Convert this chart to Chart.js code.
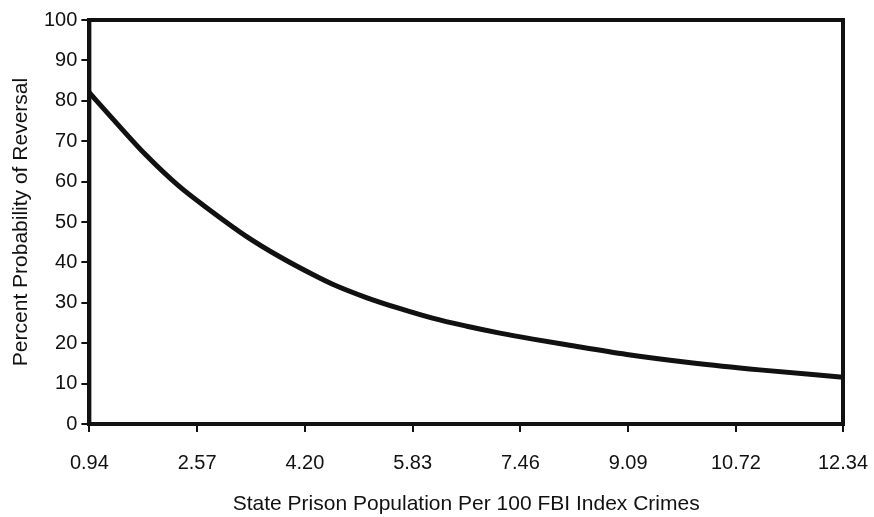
<!DOCTYPE html>
<html>
<head>
<meta charset="utf-8">
<script src="https://cdn.jsdelivr.net/npm/chart.js@4"></script>
<style>
  html, body { margin: 0; padding: 0; background: #fff; }
  #wrap { width: 874px; height: 517px; }
</style>
</head>
<body>
<div id="wrap"><canvas id="chart"></canvas></div>
<script>
// prison population per 100 index crimes vs. estimated reversal probability
const xTicks = [0.94, 2.57, 4.20, 5.83, 7.46, 9.09, 10.72, 12.34];
const popValues = [0.94, 1.29, 1.80, 2.30, 2.80, 3.32, 3.82, 4.32, 4.62, 5.13, 5.63, 6.13, 6.65, 7.15, 7.65, 8.16, 9.07, 10.07, 11.08, 12.34];
const reversalPct = [82.0, 75.6, 66.5, 58.8, 52.5, 46.4, 41.4, 37.0, 34.6, 31.3, 28.6, 26.2, 24.2, 22.5, 21.0, 19.6, 17.2, 15.1, 13.4, 11.6];

// heavy frame round the plot area
const framePlugin = {
  id: 'frame',
  afterDraw(chart) {
    const a = chart.chartArea;
    const ctx = chart.ctx;
    ctx.save();
    ctx.strokeStyle = '#111';
    ctx.lineWidth = 4;
    ctx.strokeRect(a.left, a.top, a.right - a.left, a.bottom - a.top);
    ctx.restore();
  }
};

const family = '"Liberation Sans", Arial, sans-serif';
const tickFont = { family: family, size: 20, lineHeight: 1 };
const titleFont = { family: family, size: 21, lineHeight: 1 };

new Chart(document.getElementById('chart'), {
  type: 'line',
  data: {
    datasets: [{
      data: popValues.map((x, i) => ({ x: x, y: reversalPct[i] })),
      borderColor: '#111',
      borderWidth: 5,
      pointRadius: 0,
      cubicInterpolationMode: 'monotone',
      fill: false
    }]
  },
  options: {
    responsive: true,
    maintainAspectRatio: false,
    animation: false,
    layout: { padding: { top: 20, right: 0, bottom: 0, left: 7 } },
    plugins: {
      legend: { display: false },
      tooltip: { enabled: false }
    },
    scales: {
      x: {
        type: 'linear',
        min: 0.94,
        max: 12.34,
        afterBuildTicks(axis) {
          axis.ticks = xTicks.map(v => ({ value: v }));
        },
        // the last label only needs half its width past the frame
        afterFit(axis) {
          axis.paddingRight = 31;
        },
        ticks: {
          color: '#111',
          font: tickFont,
          padding: 21,
          maxRotation: 0,
          autoSkip: false,
          callback: v => v.toFixed(2)
        },
        grid: { drawOnChartArea: false, color: '#111', lineWidth: 2, tickLength: 8 },
        border: { color: '#111', width: 4 },
        title: {
          display: true,
          text: 'State Prison Population Per 100 FBI Index Crimes',
          color: '#111',
          font: titleFont,
          padding: { top: 0, bottom: 2 }
        }
      },
      y: {
        min: 0,
        max: 100,
        ticks: { stepSize: 10, color: '#111', font: tickFont, padding: 4 },
        grid: { drawOnChartArea: false, color: '#111', lineWidth: 2, tickLength: 8 },
        border: { color: '#111', width: 4 },
        title: {
          display: true,
          text: 'Percent Probability of Reversal',
          color: '#111',
          font: titleFont,
          padding: { bottom: 8 }
        }
      }
    }
  },
  plugins: [framePlugin]
});
</script>
</body>
</html>
